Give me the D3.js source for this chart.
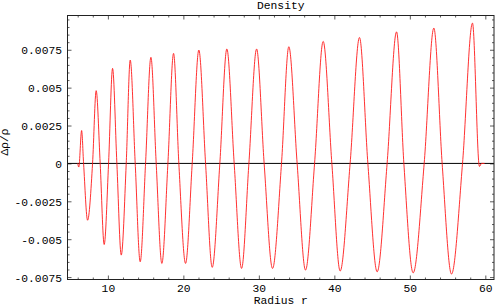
<!DOCTYPE html>
<html>
<head>
<meta charset="utf-8">
<script src="https://cdn.jsdelivr.net/npm/d3@7"></script>
<style>
  body { margin: 0; background: #fff; }
  svg { display: block; }
  text { font-family: "Liberation Mono", "DejaVu Sans Mono", monospace; font-size: 11.3px; fill: #000; }
</style>
</head>
<body>
<div id="chart"></div>
<script>
// data: radius r and density contrast
var radius = [6.0, 6.15, 6.52, 6.78, 7.31, 7.97, 8.45, 8.98, 9.51, 10.09,
  10.62, 11.19, 11.77, 12.43, 12.96, 13.62, 14.28, 14.99, 15.70, 16.40,
  17.15, 17.95, 18.70, 19.40, 20.29, 21.17, 22.05, 22.94, 23.82, 24.83,
  25.76, 26.73, 27.71, 28.68, 29.70, 30.70, 31.81, 33.0, 33.97, 35.07,
  36.18, 37.38, 38.52, 39.67, 40.77, 42.09, 43.33, 44.44, 45.67, 46.99,
  48.24, 49.21, 50.44, 51.9, 53.18, 54.28, 55.52, 56.98, 58.30, 59.22,
  59.5, 59.9];
var density = [0, -0.00024, 0.00217, 0, -0.00375, 0, 0.0048, 0, -0.00535, 0,
  0.00627, 0, -0.00605, 0, 0.00682, 0, -0.00649, 0, 0.0070, 0,
  -0.0066, 0, 0.00726, 0, -0.0066, 0, 0.00748, 0, -0.00686, 0,
  0.00755, 0, -0.00693, 0, 0.00755, 0, -0.00693, 0, 0.0077, 0,
  -0.00704, 0, 0.00805, 0, -0.0071, 0, 0.00831, 0, -0.00715, 0,
  0.00868, 0, -0.00722, 0, 0.00893, 0, -0.0073, 0, 0.00926, -0.0002,
  0, 0];
var xTicks = [10, 20, 30, 40, 50, 60];
var yTicks = [-0.0075, -0.005, -0.0025, 0, 0.0025, 0.005, 0.0075];
var xMinor = [6, 8, 12, 14, 16, 18, 22, 24, 26, 28, 32, 34, 36, 38, 42, 44, 46, 48, 52, 54, 56, 58];
var yMinor = [-0.007, -0.0065, -0.006, -0.0055, -0.0045, -0.004, -0.0035, -0.003,
  -0.002, -0.0015, -0.001, -0.0005, 0.0005, 0.001, 0.0015, 0.002,
  0.003, 0.0035, 0.004, 0.0045, 0.0055, 0.006, 0.0065, 0.007,
  0.008, 0.0085, 0.009, 0.0095];

var width = 496, height = 305;
var plot = {left: 67.5, right: 494, top: 15.5, bottom: 279.5};

var svg = d3.select("#chart").append("svg")
  .attr("width", width)
  .attr("height", height);

var x = d3.scaleLinear().domain([4.65, 61.15]).range([plot.left, plot.right]);
var y = d3.scaleLinear().domain([-0.00766, 0.00976]).range([plot.bottom, plot.top]);

var fmt = function(d) { return d === 0 ? "0" : String(+d.toFixed(4)); };

// frame ticks, all pointing inward
function frameAxis(axis, tr, vals, size, labels) {
  var g = svg.append("g").attr("transform", tr)
    .call(axis.tickValues(vals).tickSizeInner(size).tickSizeOuter(0)
      .tickFormat(labels ? fmt : ""));
  g.select(".domain").remove();
  g.selectAll(".tick line").attr("stroke", "#333").attr("stroke-width", 0.8);
  return g;
}

var gx = frameAxis(d3.axisBottom(x), "translate(0," + plot.bottom + ")", xTicks, -4, true);
gx.selectAll(".tick text").attr("y", 12).attr("dy", 0);
frameAxis(d3.axisBottom(x), "translate(0," + plot.bottom + ")", xMinor, -2, false);
frameAxis(d3.axisTop(x), "translate(0," + plot.top + ")", xTicks, -4, false);
frameAxis(d3.axisTop(x), "translate(0," + plot.top + ")", xMinor, -2, false);

var gy = frameAxis(d3.axisLeft(y), "translate(" + plot.left + ",0)", yTicks, -4, true);
gy.selectAll(".tick text").attr("x", -5.5).attr("dy", "0.35em");
frameAxis(d3.axisLeft(y), "translate(" + plot.left + ",0)", yMinor, -2, false);
frameAxis(d3.axisRight(y), "translate(" + plot.right + ",0)", yTicks, -4, false);
frameAxis(d3.axisRight(y), "translate(" + plot.right + ",0)", yMinor, -2, false);

svg.selectAll(".tick text")
  .style("font-family", "'Liberation Mono', monospace")
  .style("font-size", "11.3px")
  .attr("fill", "#000");

// zero line
svg.append("line")
  .attr("x1", plot.left).attr("x2", plot.right)
  .attr("y1", y(0)).attr("y2", y(0))
  .attr("stroke", "#000").attr("stroke-width", 1);

// the density curve
var pts = radius.map(function(r, i) { return [r, density[i]]; });
svg.append("path")
  .datum(pts)
  .attr("fill", "none")
  .attr("stroke", "#ff1a1a")
  .attr("stroke-width", 0.9)
  .attr("d", d3.line()
    .x(function(d) { return x(d[0]); })
    .y(function(d) { return y(d[1]); })
    .curve(d3.curveMonotoneX));

// frame
svg.append("rect")
  .attr("x", plot.left).attr("y", plot.top)
  .attr("width", plot.right - plot.left).attr("height", plot.bottom - plot.top)
  .attr("fill", "none").attr("stroke", "#222").attr("stroke-width", 1);

// titles
svg.append("text")
  .attr("x", (plot.left + plot.right) / 2).attr("y", 8.5)
  .attr("text-anchor", "middle")
  .text("Density");

svg.append("text")
  .attr("x", (plot.left + plot.right) / 2).attr("y", 303.5)
  .attr("text-anchor", "middle")
  .text("Radius r");

svg.append("text")
  .attr("transform", "translate(8,142) rotate(-90)")
  .attr("text-anchor", "middle")
  .text("Δρ/ρ");
</script>
</body>
</html>
